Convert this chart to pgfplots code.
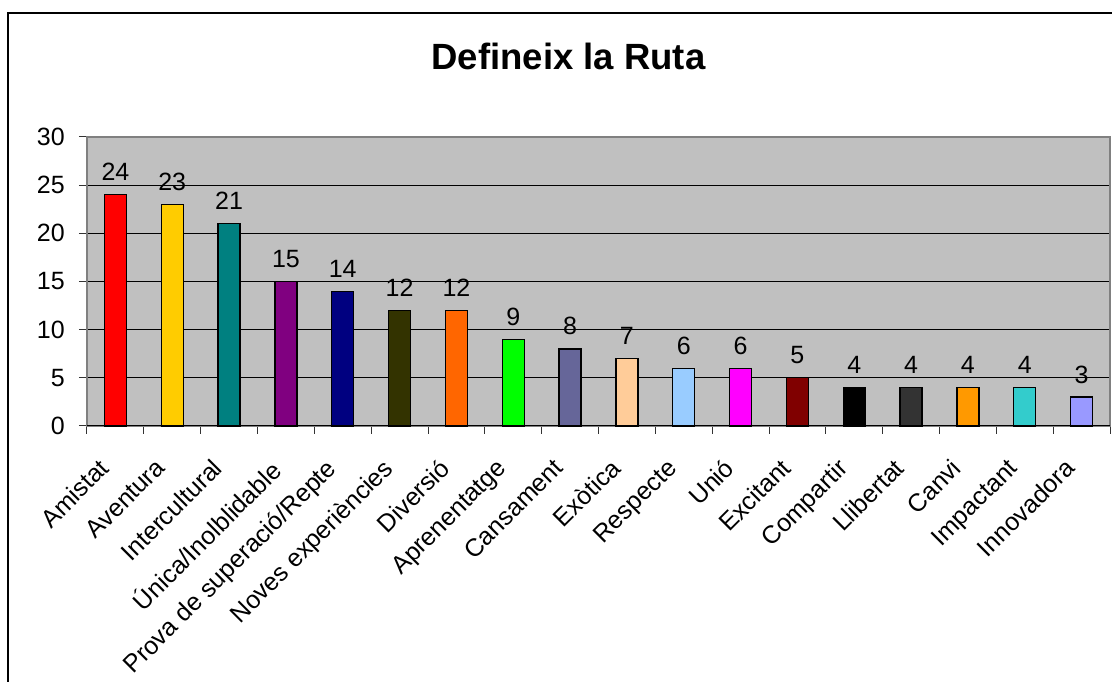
\documentclass[border=0pt]{standalone}
\usepackage{fontspec}
\setmainfont{Liberation Sans}
\usepackage{pgfplots}
\pgfplotsset{compat=1.18}
\definecolor{plotgray}{HTML}{C0C0C0}
\definecolor{axisgray}{HTML}{808080}
\definecolor{c1}{HTML}{FF0000}
\definecolor{c2}{HTML}{FFCC00}
\definecolor{c3}{HTML}{008080}
\definecolor{c4}{HTML}{800080}
\definecolor{c5}{HTML}{000080}
\definecolor{c6}{HTML}{333300}
\definecolor{c7}{HTML}{FF6600}
\definecolor{c8}{HTML}{00FF00}
\definecolor{c9}{HTML}{666699}
\definecolor{c10}{HTML}{FFCC99}
\definecolor{c11}{HTML}{99CCFF}
\definecolor{c12}{HTML}{FF00FF}
\definecolor{c13}{HTML}{800000}
\definecolor{c14}{HTML}{000000}
\definecolor{c15}{HTML}{333333}
\definecolor{c16}{HTML}{FF9900}
\definecolor{c17}{HTML}{33CCCC}
\definecolor{c18}{HTML}{9999FF}
\pgfplotsset{mybar/.style={fill=#1, draw=black, line width=1.2pt, bar shift=0pt}}
\begin{document}
\begin{tikzpicture}
\useasboundingbox (0,0) rectangle (1112pt,682pt);
\begin{scope}
\clip (0,0) rectangle (1112pt,682pt);
\draw[line width=2pt] (8.3pt,-20pt) -- (8.3pt,668.7pt) -- (1130pt,668.7pt);
\end{scope}
\node[font=\fontsize{36.5}{40}\selectfont\bfseries, anchor=base, inner sep=0pt] at (568.5pt,612pt) {Defineix la Ruta};
\begin{axis}[
  at={(87pt,256pt)}, anchor=south west,
  width=1023pt, height=289pt, scale only axis,
  xmin=-0.5, xmax=17.5, ymin=0, ymax=30,
  ybar, bar width=22pt,
  axis background/.style={fill=plotgray},
  axis line style={draw=axisgray, line width=1.5pt},
  ytick={0,5,...,30},
  xtick pos=left, ytick pos=left,
  ymajorgrids, major grid style={black, line width=1pt},
  tick align=outside, major tick length=8pt,
  tick style={black!80, line width=1pt},
  xtick={-0.5,0.5,...,17.5}, xticklabels={},
  extra x ticks={0,1,...,17},
  extra x tick labels={Amistat,Aventura,Intercultural,Única/Inolblidable,Prova de superació/Repte,Noves experiències,Diversió,Aprenentatge,Cansament,Exòtica,Respecte,Unió,Excitant,Compartir,Llibertat,Canvi,Impactant,Innovadora},
  extra x tick style={major tick length=0pt, grid=none,
    xticklabel style={font=\fontsize{25}{29}\selectfont, xshift=-18pt, yshift=-31pt, rotate=45, anchor=north east, inner sep=0pt}},
  yticklabel style={font=\fontsize{25}{29}\selectfont, anchor=east, inner sep=0pt, xshift=-14pt},
  nodes near coords,
  nodes near coords style={font=\fontsize{25}{29}\selectfont, anchor=base, inner sep=0pt, yshift=14pt, text=black},
  /pgf/number format/assume math mode=true,
  clip=false,
]
\addplot[mybar=c1] coordinates {(0,24)};
\addplot[mybar=c2] coordinates {(1,23)};
\addplot[mybar=c3] coordinates {(2,21)};
\addplot[mybar=c4] coordinates {(3,15)};
\addplot[mybar=c5] coordinates {(4,14)};
\addplot[mybar=c6] coordinates {(5,12)};
\addplot[mybar=c7] coordinates {(6,12)};
\addplot[mybar=c8] coordinates {(7,9)};
\addplot[mybar=c9] coordinates {(8,8)};
\addplot[mybar=c10] coordinates {(9,7)};
\addplot[mybar=c11] coordinates {(10,6)};
\addplot[mybar=c12] coordinates {(11,6)};
\addplot[mybar=c13] coordinates {(12,5)};
\addplot[mybar=c14] coordinates {(13,4)};
\addplot[mybar=c15] coordinates {(14,4)};
\addplot[mybar=c16] coordinates {(15,4)};
\addplot[mybar=c17] coordinates {(16,4)};
\addplot[mybar=c18] coordinates {(17,3)};
\draw[black, line width=1pt] (axis cs:-0.5,0) -- (axis cs:17.5,0);
\end{axis}
\end{tikzpicture}
\end{document}
